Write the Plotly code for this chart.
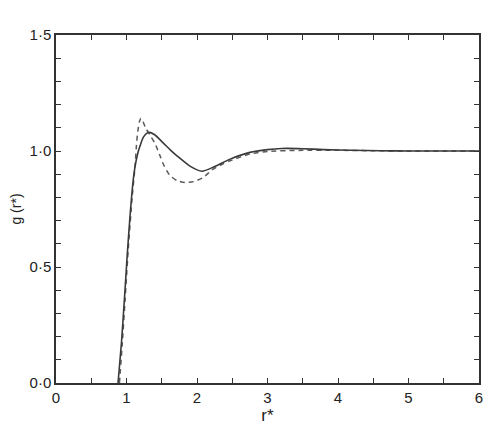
import plotly.graph_objects as go

# Solid curve
r_solid = [0.88, 0.93, 0.97, 1.01, 1.05, 1.09, 1.12, 1.16, 1.19, 1.24, 1.31, 1.4, 1.52,
           1.62, 1.72, 1.9, 2.07, 2.23, 2.47, 2.75, 3.0, 3.2, 3.5, 3.8, 4.2, 4.6, 5.0, 5.5, 6.0]
g_solid = [0.0, 0.18, 0.36, 0.55, 0.72, 0.86, 0.93, 0.99, 1.02, 1.06, 1.08, 1.07, 1.035,
           1.005, 0.978, 0.935, 0.913, 0.93, 0.965, 0.994, 1.006, 1.011, 1.01, 1.006, 1.003,
           1.001, 1.0, 1.0, 1.0]

# Dashed curve
r_dash = [0.9, 0.94, 0.98, 1.03, 1.08, 1.12, 1.14, 1.16, 1.185, 1.206, 1.23, 1.27, 1.33,
          1.4, 1.475, 1.52, 1.57, 1.62, 1.72, 1.83, 1.95, 2.09, 2.21, 2.35, 2.47, 2.75,
          3.0, 3.5, 4.0, 4.5, 5.0, 6.0]
g_dash = [0.0, 0.17, 0.36, 0.6, 0.8, 0.93, 1.02, 1.085, 1.128, 1.141, 1.13, 1.1, 1.07,
          1.035, 0.98, 0.945, 0.915, 0.893, 0.872, 0.864, 0.868, 0.886, 0.918, 0.942, 0.958,
          0.987, 0.998, 1.003, 1.003, 1.001, 1.0, 1.0]

x_ticks = [0, 1, 2, 3, 4, 5, 6]
x_ticklabels = ["0", "1", "2", "3", "4", "5", "6"]
y_ticks = [0.0, 0.5, 1.0, 1.5]
y_ticklabels = ["0·0", "0·5", "1·0", "1·5"]

fig = go.Figure()
fig.add_trace(go.Scatter(x=r_dash, y=g_dash, mode="lines",
                         line=dict(color="#5a5a5a", width=1.5, dash="5px,4px",
                                   shape="spline", smoothing=0.6),
                         showlegend=False))
fig.add_trace(go.Scatter(x=r_solid, y=g_solid, mode="lines",
                         line=dict(color="#3a3a3a", width=1.6,
                                   shape="spline", smoothing=0.6),
                         showlegend=False))

font_main = "Liberation Sans, Arial"
axis_common = dict(showline=True, linecolor="#333", linewidth=1.5, mirror="allticks",
                   ticks="inside", ticklen=5, tickwidth=1.2, tickcolor="#333",
                   showgrid=False, zeroline=False, automargin=False,
                   tickfont=dict(family=font_main, size=15, color="#222"))

fig.update_xaxes(range=[0, 6], tickvals=x_ticks, ticktext=x_ticklabels,
                 minor=dict(dtick=0.5, ticks="inside", ticklen=5, tickwidth=1.2, tickcolor="#333"),
                 title=dict(text="r*", standoff=4, font=dict(family=font_main, size=17, color="#222")),
                 **axis_common)
fig.update_yaxes(range=[0, 1.5], tickvals=y_ticks, ticktext=y_ticklabels,
                 minor=dict(dtick=0.1, ticks="inside", ticklen=5, tickwidth=1.2, tickcolor="#333"),
                 title=dict(text="g (r*)", standoff=10, font=dict(family=font_main, size=14, color="#222")),
                 **axis_common)

fig.update_layout(
    width=490, height=417,
    margin=dict(l=48, r=19, t=27, b=42),
    plot_bgcolor="white", paper_bgcolor="white",
)

fig.write_html("out.html")
